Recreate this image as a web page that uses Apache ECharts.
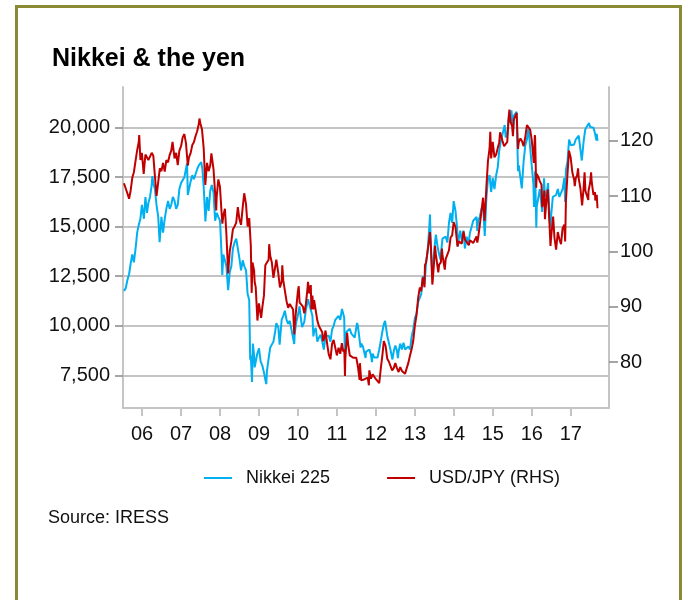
<!DOCTYPE html>
<html>
<head>
<meta charset="utf-8">
<script src="https://cdn.jsdelivr.net/npm/echarts@6/dist/echarts.min.js"></script>
<style>
  html, body { margin: 0; padding: 0; background: #ffffff; overflow: hidden; }
  #frame {
    position: absolute; left: 15px; top: 5px; width: 667px; height: 640px;
    border: 3px solid #8a8a35; box-sizing: border-box;
  }
  #chart { position: absolute; left: 0; top: 0; width: 684px; height: 600px; }
</style>
</head>
<body>
<div id="chart"></div>
<div id="frame"></div>
<script>
// Nikkei 225 index level, [date, close]
const nikkei = [
  ['2005-07-15', 11750], ['2005-08-01', 11900], ['2005-08-16', 12300], ['2005-09-01', 12600],
  ['2005-09-16', 13150], ['2005-10-01', 13600], ['2005-10-16', 13200], ['2005-11-01', 13900],
  ['2005-11-16', 14700], ['2005-12-01', 15100], ['2005-12-16', 15400], ['2005-12-30', 16100],
  ['2006-01-16', 16000], ['2006-01-18', 15400], ['2006-02-01', 16500], ['2006-02-16', 15700],
  ['2006-03-01', 16200], ['2006-03-16', 16500], ['2006-04-01', 17100], ['2006-04-07', 17550],
  ['2006-04-16', 17200], ['2006-05-01', 16900], ['2006-05-16', 16100], ['2006-06-01', 15500],
  ['2006-06-14', 14220], ['2006-07-01', 15500], ['2006-07-16', 14700], ['2006-08-01', 15400],
  ['2006-08-16', 15900], ['2006-09-01', 16300], ['2006-09-16', 15900], ['2006-10-01', 16100],
  ['2006-10-16', 16500], ['2006-11-01', 16300], ['2006-11-16', 15900], ['2006-12-01', 16100],
  ['2006-12-16', 16900],
  ['2007-01-01', 17200], ['2007-01-16', 17200], ['2007-02-01', 17500], ['2007-02-26', 18200],
  ['2007-03-05', 16600], ['2007-03-16', 16700], ['2007-04-01', 17300], ['2007-04-16', 17600],
  ['2007-05-01', 17400], ['2007-05-16', 17500], ['2007-06-01', 17900], ['2007-06-16', 18100],
  ['2007-07-01', 18100], ['2007-07-09', 18260], ['2007-07-20', 17900], ['2007-08-01', 17000],
  ['2007-08-17', 15270], ['2007-09-01', 16500], ['2007-09-16', 15800], ['2007-10-01', 16800],
  ['2007-10-16', 17100], ['2007-11-01', 16700], ['2007-11-16', 15300], ['2007-12-01', 15700],
  ['2007-12-16', 15500],
  ['2008-01-01', 15300], ['2008-01-16', 13500], ['2008-01-22', 12570], ['2008-02-01', 13600],
  ['2008-02-16', 13600], ['2008-03-01', 13000], ['2008-03-17', 11800], ['2008-04-01', 12700],
  ['2008-04-16', 13000], ['2008-05-01', 13900], ['2008-05-16', 14200], ['2008-06-01', 14400],
  ['2008-06-16', 14300], ['2008-07-01', 13400], ['2008-07-16', 12800], ['2008-08-01', 13300],
  ['2008-08-16', 13000], ['2008-09-01', 12800], ['2008-09-16', 11600], ['2008-10-01', 11300],
  ['2008-10-10', 8280], ['2008-10-16', 8500], ['2008-10-27', 7160], ['2008-11-04', 9100],
  ['2008-11-16', 8500], ['2008-11-21', 7900], ['2008-12-01', 8000], ['2008-12-16', 8600],
  ['2009-01-01', 8860], ['2009-01-16', 8200], ['2009-02-01', 7990], ['2009-02-16', 7650],
  ['2009-03-01', 7280], ['2009-03-10', 7055], ['2009-03-16', 7700], ['2009-04-01', 8350],
  ['2009-04-16', 8900], ['2009-05-01', 8800], ['2009-05-16', 9200], ['2009-06-01', 9700],
  ['2009-06-12', 10130], ['2009-07-01', 9900], ['2009-07-13', 9050], ['2009-08-01', 10300],
  ['2009-08-16', 10500], ['2009-08-31', 10760], ['2009-09-16', 10300], ['2009-10-01', 10100],
  ['2009-10-16', 10250], ['2009-11-01', 9800], ['2009-11-16', 9800], ['2009-11-27', 9080],
  ['2009-12-01', 9600], ['2009-12-16', 10180],
  ['2010-01-01', 10550], ['2010-01-15', 10980], ['2010-02-01', 10200], ['2010-02-09', 9930],
  ['2010-03-01', 10200], ['2010-03-16', 10800], ['2010-04-05', 11340], ['2010-04-16', 11100],
  ['2010-05-01', 11050], ['2010-05-16', 10500], ['2010-05-25', 9460], ['2010-06-01', 9700],
  ['2010-06-16', 9900], ['2010-07-01', 9200], ['2010-07-16', 9400], ['2010-08-01', 9550],
  ['2010-08-16', 9200], ['2010-08-31', 8800], ['2010-09-16', 9500], ['2010-10-01', 9400],
  ['2010-10-16', 9500], ['2010-11-01', 9200], ['2010-11-16', 9800], ['2010-12-01', 10000],
  ['2010-12-16', 10300],
  ['2011-01-01', 10230], ['2011-01-16', 10500], ['2011-02-01', 10300], ['2011-02-17', 10850],
  ['2011-03-01', 10600], ['2011-03-10', 10400], ['2011-03-15', 8600], ['2011-03-20', 9200],
  ['2011-04-01', 9700], ['2011-04-16', 9600], ['2011-05-01', 9850], ['2011-05-16', 9600],
  ['2011-06-01', 9700], ['2011-06-16', 9400], ['2011-07-08', 10140], ['2011-07-16', 10000],
  ['2011-08-01', 9950], ['2011-08-10', 8900], ['2011-08-16', 9100], ['2011-09-01', 8950],
  ['2011-09-16', 8860], ['2011-09-26', 8375], ['2011-10-01', 8700], ['2011-10-16', 8750],
  ['2011-11-01', 8800], ['2011-11-16', 8500], ['2011-11-25', 8160], ['2011-12-01', 8600],
  ['2011-12-16', 8400],
  ['2012-01-01', 8450], ['2012-01-16', 8400], ['2012-02-01', 8800], ['2012-02-16', 9250],
  ['2012-03-01', 9700], ['2012-03-16', 10100], ['2012-03-27', 10250], ['2012-04-16', 9500],
  ['2012-05-01', 9400], ['2012-05-16', 8800], ['2012-06-04', 8300], ['2012-06-16', 8700],
  ['2012-07-01', 9000], ['2012-07-16', 8750], ['2012-07-25', 8370], ['2012-08-01', 8700],
  ['2012-08-16', 9100], ['2012-09-01', 8800], ['2012-09-16', 9150], ['2012-10-01', 8800],
  ['2012-10-16', 8700], ['2012-11-01', 8950], ['2012-11-16', 8800], ['2012-12-01', 9450],
  ['2012-12-16', 9800],
  ['2013-01-01', 10400], ['2013-01-16', 10600], ['2013-02-01', 11200], ['2013-02-16', 11200],
  ['2013-03-01', 11600], ['2013-03-16', 12500], ['2013-04-01', 12100], ['2013-04-16', 13200],
  ['2013-05-01', 13800], ['2013-05-16', 15000], ['2013-05-22', 15620], ['2013-06-01', 13700],
  ['2013-06-13', 12450], ['2013-06-16', 12700], ['2013-07-01', 13800], ['2013-07-16', 14600],
  ['2013-08-01', 14000], ['2013-08-16', 13600], ['2013-08-28', 13340], ['2013-09-16', 14400],
  ['2013-10-01', 14500], ['2013-10-16', 14500], ['2013-11-01', 14200], ['2013-11-16', 15200],
  ['2013-12-01', 15700], ['2013-12-16', 15200], ['2013-12-30', 16290],
  ['2014-01-16', 15800], ['2014-02-01', 14900], ['2014-02-05', 14000], ['2014-02-16', 14400],
  ['2014-03-01', 14800], ['2014-03-16', 14300], ['2014-04-01', 14800], ['2014-04-14', 13900],
  ['2014-05-01', 14500], ['2014-05-16', 14100], ['2014-06-01', 14700], ['2014-06-16', 15000],
  ['2014-07-01', 15300], ['2014-07-16', 15400], ['2014-08-01', 15500], ['2014-08-08', 14780],
  ['2014-08-16', 15300], ['2014-09-01', 15500], ['2014-09-16', 15900], ['2014-10-01', 16100],
  ['2014-10-17', 14530], ['2014-11-01', 16400], ['2014-11-16', 17400], ['2014-12-01', 17600],
  ['2014-12-16', 16750], ['2014-12-31', 17450],
  ['2015-01-16', 16900], ['2015-02-01', 17600], ['2015-02-16', 18000], ['2015-03-01', 18800],
  ['2015-03-16', 19300], ['2015-04-01', 19200], ['2015-04-22', 20130], ['2015-05-01', 19500],
  ['2015-05-16', 19700], ['2015-06-01', 20550], ['2015-06-16', 20250], ['2015-06-24', 20870],
  ['2015-07-09', 19740], ['2015-07-16', 20600], ['2015-08-01', 20580], ['2015-08-11', 20800],
  ['2015-08-25', 17800], ['2015-09-01', 18100], ['2015-09-16', 18000], ['2015-09-29', 16930],
  ['2015-10-16', 18300], ['2015-11-01', 19100], ['2015-11-16', 19400], ['2015-12-01', 20000],
  ['2015-12-16', 19000], ['2015-12-31', 19030],
  ['2016-01-16', 17150], ['2016-01-21', 16000], ['2016-02-01', 17800], ['2016-02-12', 14950],
  ['2016-02-16', 16000], ['2016-03-01', 16100], ['2016-03-16', 16900], ['2016-04-07', 15750],
  ['2016-04-25', 17440], ['2016-05-01', 16700], ['2016-05-16', 16500], ['2016-06-01', 17200],
  ['2016-06-16', 15400], ['2016-06-24', 14950], ['2016-07-01', 15600], ['2016-07-16', 16500],
  ['2016-08-01', 16600], ['2016-08-16', 16600], ['2016-09-01', 16900], ['2016-09-16', 16500],
  ['2016-10-01', 16450], ['2016-10-16', 16900], ['2016-11-01', 17450], ['2016-11-09', 16250],
  ['2016-11-16', 17860], ['2016-12-01', 18300], ['2016-12-16', 19400], ['2016-12-21', 19490],
  ['2017-01-01', 19110], ['2017-01-16', 19100], ['2017-02-01', 19150], ['2017-02-16', 19400],
  ['2017-03-01', 19400], ['2017-03-16', 19600], ['2017-04-01', 18900], ['2017-04-14', 18340],
  ['2017-05-01', 19300], ['2017-05-16', 19900], ['2017-06-01', 19860], ['2017-06-20', 20230],
  ['2017-07-01', 20030], ['2017-07-16', 20100], ['2017-08-01', 20000], ['2017-08-16', 19700],
  ['2017-08-29', 19360], ['2017-09-01', 19690], ['2017-09-08', 19330]
];

// USD/JPY exchange rate, [date, yen per dollar]
const usdjpy = [
  ['2005-07-15', 112.3], ['2005-08-01', 112.5], ['2005-08-16', 110.5], ['2005-09-01', 109.5],
  ['2005-09-08', 109.3], ['2005-09-16', 111.0], ['2005-10-01', 113.3], ['2005-10-16', 114.3],
  ['2005-11-01', 116.4], ['2005-11-16', 118.3], ['2005-12-01', 119.8], ['2005-12-05', 121.0],
  ['2005-12-16', 116.5], ['2005-12-30', 117.8],
  ['2006-01-16', 114.0], ['2006-02-01', 117.5], ['2006-02-16', 117.8], ['2006-03-01', 116.5],
  ['2006-03-16', 116.8], ['2006-04-01', 117.8], ['2006-04-16', 117.3], ['2006-05-01', 113.6],
  ['2006-05-16', 110.0], ['2006-06-01', 112.5], ['2006-06-16', 115.0], ['2006-07-01', 114.5],
  ['2006-07-16', 116.0], ['2006-08-01', 114.4], ['2006-08-16', 116.5], ['2006-09-01', 116.1],
  ['2006-09-16', 117.4], ['2006-10-01', 118.2], ['2006-10-13', 119.8], ['2006-11-01', 116.8],
  ['2006-11-16', 117.8], ['2006-12-01', 115.6], ['2006-12-16', 118.2],
  ['2007-01-01', 119.0], ['2007-01-16', 120.6], ['2007-02-01', 121.2], ['2007-02-16', 119.5],
  ['2007-03-05', 115.5], ['2007-03-16', 117.0], ['2007-04-01', 117.8], ['2007-04-16', 119.2],
  ['2007-05-01', 119.7], ['2007-05-16', 120.8], ['2007-06-01', 121.7], ['2007-06-16', 123.0],
  ['2007-06-22', 124.0], ['2007-07-01', 123.1], ['2007-07-16', 122.0], ['2007-08-01', 118.6],
  ['2007-08-16', 112.0], ['2007-09-01', 116.0], ['2007-09-16', 114.5], ['2007-10-01', 115.5],
  ['2007-10-12', 117.7], ['2007-11-01', 114.8], ['2007-11-16', 110.5], ['2007-11-26', 107.4],
  ['2007-12-01', 110.0], ['2007-12-16', 113.0], ['2007-12-31', 111.7],
  ['2008-01-16', 106.8], ['2008-01-23', 105.0], ['2008-02-01', 106.5], ['2008-02-16', 107.7],
  ['2008-03-01', 103.0], ['2008-03-17', 96.0], ['2008-04-01', 100.0], ['2008-04-16', 101.8],
  ['2008-05-01', 104.0], ['2008-05-16', 104.5], ['2008-06-01', 105.2], ['2008-06-16', 108.0],
  ['2008-07-01', 105.8], ['2008-07-16', 104.8], ['2008-08-01', 108.0], ['2008-08-15', 110.5],
  ['2008-09-01', 108.5], ['2008-09-16', 104.5], ['2008-10-01', 106.0], ['2008-10-16', 101.0],
  ['2008-10-24', 92.5], ['2008-11-01', 98.0], ['2008-11-16', 96.5], ['2008-11-21', 94.5],
  ['2008-12-01', 93.5], ['2008-12-17', 87.5], ['2008-12-31', 90.6],
  ['2009-01-21', 88.0], ['2009-02-01', 89.9], ['2009-02-16', 92.0], ['2009-03-01', 97.5],
  ['2009-03-16', 98.0], ['2009-04-01', 98.5], ['2009-04-06', 101.3], ['2009-04-16', 99.2],
  ['2009-05-01', 98.0], ['2009-05-16', 95.2], ['2009-06-01', 95.3], ['2009-06-12', 98.5],
  ['2009-07-01', 96.0], ['2009-07-16', 93.5], ['2009-08-01', 94.5], ['2009-08-07', 97.5],
  ['2009-08-16', 94.8], ['2009-09-01', 92.8], ['2009-09-16', 91.0], ['2009-10-01', 89.8],
  ['2009-10-16', 90.5], ['2009-11-01', 90.5], ['2009-11-16', 89.5], ['2009-11-27', 85.0],
  ['2009-12-01', 86.5], ['2009-12-16', 89.8], ['2009-12-31', 92.8],
  ['2010-01-08', 93.7], ['2010-01-16', 90.8], ['2010-02-01', 90.5], ['2010-02-16', 90.0],
  ['2010-03-01', 88.8], ['2010-03-16', 90.5], ['2010-04-01', 93.5], ['2010-04-05', 94.5],
  ['2010-04-16', 92.4], ['2010-05-01', 93.9], ['2010-05-06', 89.5], ['2010-05-16', 92.0],
  ['2010-05-25', 89.5], ['2010-06-01', 91.2], ['2010-06-16', 91.5], ['2010-07-01', 87.5],
  ['2010-07-16', 86.5], ['2010-08-01', 86.5], ['2010-08-16', 85.4], ['2010-08-24', 83.8],
  ['2010-09-01', 84.2], ['2010-09-16', 85.7], ['2010-10-01', 83.3], ['2010-10-16', 81.4],
  ['2010-11-01', 80.5], ['2010-11-16', 83.3], ['2010-12-01', 84.0], ['2010-12-16', 84.0],
  ['2010-12-31', 81.2],
  ['2011-01-16', 82.6], ['2011-02-01', 81.5], ['2011-02-16', 83.4], ['2011-03-01', 81.9],
  ['2011-03-11', 82.3], ['2011-03-17', 77.5], ['2011-03-20', 80.5], ['2011-04-06', 85.3],
  ['2011-04-16', 83.2], ['2011-05-01', 81.2], ['2011-05-16', 81.2], ['2011-06-01', 80.8],
  ['2011-06-16', 80.5], ['2011-07-01', 80.8], ['2011-07-16', 79.2], ['2011-08-01', 76.8],
  ['2011-08-04', 79.8], ['2011-08-16', 76.7], ['2011-09-01', 76.8], ['2011-09-16', 76.9],
  ['2011-10-01', 77.0], ['2011-10-16', 77.2], ['2011-10-27', 75.8], ['2011-10-31', 78.5],
  ['2011-11-16', 77.0], ['2011-12-01', 77.8], ['2011-12-16', 77.9],
  ['2012-01-01', 76.9], ['2012-01-16', 76.8], ['2012-02-01', 76.2], ['2012-02-16', 78.9],
  ['2012-03-01', 81.1], ['2012-03-15', 83.8], ['2012-04-01', 82.9], ['2012-04-16', 80.6],
  ['2012-05-01', 80.1], ['2012-05-16', 80.0], ['2012-06-01', 78.5], ['2012-06-16', 78.9],
  ['2012-07-01', 79.8], ['2012-07-16', 78.9], ['2012-08-01', 78.2], ['2012-08-16', 79.1],
  ['2012-09-01', 78.4], ['2012-09-16', 78.4], ['2012-10-01', 77.9], ['2012-10-16', 78.9],
  ['2012-11-01', 79.9], ['2012-11-16', 81.2], ['2012-12-01', 82.3], ['2012-12-16', 83.8],
  ['2012-12-31', 86.5],
  ['2013-01-16', 88.5], ['2013-02-01', 91.7], ['2013-02-16', 93.5], ['2013-03-01', 92.8],
  ['2013-03-16', 95.3], ['2013-04-01', 93.5], ['2013-04-05', 97.5], ['2013-04-16', 98.0],
  ['2013-05-01', 97.8], ['2013-05-16', 102.5], ['2013-05-22', 103.5], ['2013-06-01', 100.5],
  ['2013-06-13', 94.0], ['2013-06-16', 94.5], ['2013-07-01', 98.5], ['2013-07-08', 101.0],
  ['2013-07-16', 99.5], ['2013-08-01', 99.5], ['2013-08-08', 96.2], ['2013-08-16', 97.6],
  ['2013-09-01', 98.0], ['2013-09-11', 100.5], ['2013-09-16', 99.3], ['2013-10-08', 96.7],
  ['2013-10-16', 98.6], ['2013-11-01', 98.7], ['2013-11-16', 100.2], ['2013-12-01', 102.5],
  ['2013-12-16', 102.9], ['2013-12-30', 105.3],
  ['2014-01-16', 104.4], ['2014-02-04', 100.9], ['2014-02-16', 101.8], ['2014-03-01', 101.8],
  ['2014-03-16', 101.4], ['2014-04-01', 103.6], ['2014-04-16', 102.1], ['2014-05-01', 102.3],
  ['2014-05-21', 101.1], ['2014-06-01', 102.0], ['2014-06-16', 102.0], ['2014-07-01', 101.5],
  ['2014-07-16', 101.6], ['2014-08-01', 102.7], ['2014-08-08', 101.6], ['2014-08-16', 102.4],
  ['2014-09-01', 104.8], ['2014-09-16', 107.2], ['2014-10-01', 109.7], ['2014-10-15', 105.5],
  ['2014-11-01', 111.5], ['2014-11-16', 116.3], ['2014-12-01', 118.6], ['2014-12-08', 121.6],
  ['2014-12-16', 116.8], ['2014-12-31', 119.8],
  ['2015-01-16', 117.0], ['2015-02-01', 117.5], ['2015-02-16', 118.7], ['2015-03-01', 119.6],
  ['2015-03-10', 121.5], ['2015-03-16', 121.3], ['2015-04-01', 120.0], ['2015-04-16', 119.0],
  ['2015-05-01', 119.3], ['2015-05-16', 119.8], ['2015-05-28', 124.0], ['2015-06-05', 125.6],
  ['2015-06-16', 123.4], ['2015-07-01', 122.6], ['2015-07-08', 120.8], ['2015-07-16', 123.8],
  ['2015-08-01', 124.0], ['2015-08-12', 125.0], ['2015-08-24', 118.5], ['2015-09-01', 119.8],
  ['2015-09-16', 120.4], ['2015-10-01', 119.9], ['2015-10-16', 119.0], ['2015-11-01', 120.7],
  ['2015-11-16', 122.8], ['2015-12-01', 123.0], ['2015-12-16', 122.0], ['2015-12-31', 120.2],
  ['2016-01-20', 116.0], ['2016-01-29', 121.0], ['2016-02-01', 120.5], ['2016-02-11', 111.5],
  ['2016-02-16', 114.0], ['2016-03-01', 113.5], ['2016-03-16', 112.7], ['2016-04-01', 112.0],
  ['2016-04-07', 108.0], ['2016-04-16', 108.8], ['2016-04-28', 111.0], ['2016-05-03', 105.8],
  ['2016-05-16', 109.0], ['2016-05-30', 111.2], ['2016-06-16', 104.5], ['2016-06-24', 101.0],
  ['2016-07-01', 102.7], ['2016-07-19', 106.3], ['2016-08-01', 102.4], ['2016-08-16', 100.3],
  ['2016-09-01', 103.5], ['2016-09-16', 102.2], ['2016-10-01', 101.3], ['2016-10-16', 104.2],
  ['2016-11-01', 104.8], ['2016-11-09', 101.8], ['2016-11-16', 109.0], ['2016-12-01', 114.0],
  ['2016-12-15', 118.2], ['2016-12-31', 116.9],
  ['2017-01-16', 114.2], ['2017-02-01', 113.0], ['2017-02-07', 111.8], ['2017-02-16', 113.2],
  ['2017-03-01', 113.7], ['2017-03-10', 115.0], ['2017-03-16', 113.2], ['2017-04-01', 111.4],
  ['2017-04-17', 108.3], ['2017-05-01', 111.5], ['2017-05-10', 114.3], ['2017-05-18', 110.9],
  ['2017-06-01', 110.8], ['2017-06-14', 109.3], ['2017-06-16', 110.9], ['2017-07-01', 112.4],
  ['2017-07-10', 114.3], ['2017-07-16', 112.5], ['2017-08-01', 110.2], ['2017-08-16', 110.7],
  ['2017-08-18', 109.2], ['2017-09-01', 110.2], ['2017-09-08', 107.8]
];

// Axis ticks and labels
const yearTicks = [2006, 2007, 2008, 2009, 2010, 2011, 2012, 2013, 2014, 2015, 2016, 2017];
const nikkeiTicks = [7500, 10000, 12500, 15000, 17500, 20000];
const yenTicks = [80, 90, 100, 110, 120];

const seriesNames = ['Nikkei 225', 'USD/JPY (RHS)'];

// Date string -> fractional year, so both series share one numeric x axis
function toYear(s) {
  const [y, m, d] = s.split('-').map(Number);
  const start = Date.UTC(y, 0, 1), end = Date.UTC(y + 1, 0, 1);
  return y + (Date.UTC(y, m - 1, d) - start) / (end - start);
}
const toPoints = arr => arr.map(([date, v]) => [toYear(date), v]);

const FONT = '"Liberation Sans", Arial, sans-serif';
const TEXT = '#111111';

const chart = echarts.init(document.getElementById('chart'), null, { renderer: 'canvas' });
chart.setOption({
  animation: false,
  backgroundColor: '#ffffff',
  title: {
    text: 'Nikkei & the yen',
    left: 47, top: 42,
    textStyle: { fontFamily: FONT, fontSize: 25, fontWeight: 'bold', color: '#000' }
  },
  legend: {
    data: seriesNames,
    left: 204, top: 469, padding: 0,
    icon: 'rect', itemWidth: 28, itemHeight: 2, itemGap: 57,
    textStyle: { fontFamily: FONT, fontSize: 18, color: TEXT, padding: [0, 0, 0, 9] }
  },
  graphic: [{
    type: 'text', left: 48, top: 509,
    style: { text: 'Source: IRESS', font: '18px ' + FONT, fill: TEXT }
  }],
  grid: { left: 123, right: 75, top: 87, bottom: 192 },
  xAxis: {
    type: 'value', min: 2005.51, max: 2017.98,
    axisLine: { lineStyle: { color: '#c4c4c4', width: 2 } },
    axisTick: { show: true, customValues: yearTicks, length: 8, lineStyle: { color: '#c4c4c4', width: 2 } },
    axisLabel: {
      customValues: yearTicks, margin: 16,
      fontFamily: FONT, fontSize: 20, color: TEXT,
      formatter: v => String(Math.round(v)).slice(2)
    },
    splitLine: { show: false }
  },
  yAxis: [{
    type: 'value', min: 5850, max: 22050, position: 'left',
    axisLine: { show: true, lineStyle: { color: '#c4c4c4', width: 2 } },
    axisTick: { show: true, customValues: nikkeiTicks, length: 8, lineStyle: { color: '#888888', width: 1.5 } },
    axisLabel: {
      customValues: nikkeiTicks, margin: 13,
      fontFamily: FONT, fontSize: 20, color: TEXT,
      formatter: v => v.toLocaleString('en-US')
    },
    splitLine: { show: true, lineStyle: { color: '#c4c4c4', width: 2 } }
  }, {
    type: 'value', min: 71.7, max: 129.7, position: 'right',
    axisLine: { show: true, lineStyle: { color: '#c4c4c4', width: 2 } },
    axisTick: { show: true, customValues: yenTicks, length: 9, lineStyle: { color: '#888888', width: 1.5 } },
    axisLabel: {
      customValues: yenTicks, margin: 11,
      fontFamily: FONT, fontSize: 20, color: TEXT
    },
    splitLine: { show: false }
  }],
  series: [{
    name: seriesNames[0], type: 'line', yAxisIndex: 0,
    data: toPoints(nikkei), showSymbol: false,
    lineStyle: { color: '#00b0f0', width: 2 }, itemStyle: { color: '#00b0f0' }
  }, {
    name: seriesNames[1], type: 'line', yAxisIndex: 1,
    data: toPoints(usdjpy), showSymbol: false,
    lineStyle: { color: '#c00000', width: 2 }, itemStyle: { color: '#c00000' }
  }]
});
</script>
</body>
</html>
